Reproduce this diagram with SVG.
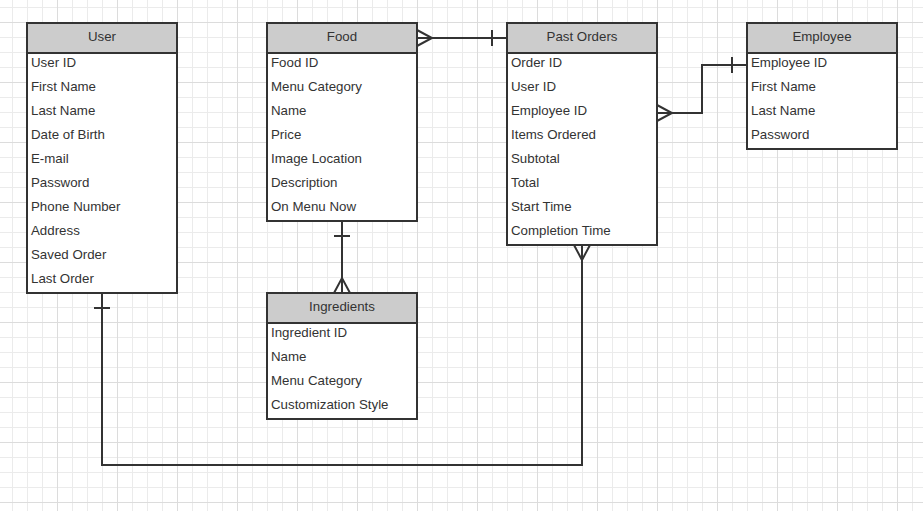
<svg xmlns="http://www.w3.org/2000/svg" width="923" height="511" viewBox="0 0 923 511">
<defs>
<pattern id="minor" patternUnits="userSpaceOnUse" x="12" y="7" width="15" height="15">
<path d="M0.5 0V15M0 0.5H15" stroke="#ebebeb" stroke-width="1" fill="none"/>
</pattern>
<pattern id="major" patternUnits="userSpaceOnUse" x="57" y="22" width="60" height="60">
<path d="M0.5 0V60M0 0.5H60" stroke="#dcdcdc" stroke-width="1" fill="none"/>
</pattern>
</defs>
<style>
.box{fill:#fff;stroke:#333;stroke-width:2}
.hdr{fill:#ccc;stroke:#333;stroke-width:2}
.t{font-family:"Liberation Sans",Arial,sans-serif;font-size:13.3px;fill:#333}
.h{text-anchor:middle}
.c{fill:none;stroke:#333;stroke-width:2}
</style>
<rect width="923" height="511" fill="#fff"/>
<rect width="923" height="511" fill="url(#minor)"/>
<rect width="923" height="511" fill="url(#major)"/>

<g id="connectors">
<path class="c" d="M417 38H507M417 30L432 38L417 46M492 30V46"/>
<path class="c" d="M657 113H702V65H747M657 105L672 113L657 121M732 57V73"/>
<path class="c" d="M342 221V293M334 236H350M334 293L342 278L350 293"/>
<path class="c" d="M582 245V465H102V293M574 245L582 260L590 245M94 308H110"/>
</g>

<g id="user">
<rect class="box" x="27" y="23" width="150" height="270"/>
<rect class="hdr" x="27" y="23" width="150" height="30"/>
<text class="t h" x="102" y="41">User</text>
<text class="t" x="31" y="67">User ID</text>
<text class="t" x="31" y="91">First Name</text>
<text class="t" x="31" y="115">Last Name</text>
<text class="t" x="31" y="139">Date of Birth</text>
<text class="t" x="31" y="163">E-mail</text>
<text class="t" x="31" y="187">Password</text>
<text class="t" x="31" y="211">Phone Number</text>
<text class="t" x="31" y="235">Address</text>
<text class="t" x="31" y="259">Saved Order</text>
<text class="t" x="31" y="283">Last Order</text>
</g>

<g id="food">
<rect class="box" x="267" y="23" width="150" height="198"/>
<rect class="hdr" x="267" y="23" width="150" height="30"/>
<text class="t h" x="342" y="41">Food</text>
<text class="t" x="271" y="67">Food ID</text>
<text class="t" x="271" y="91">Menu Category</text>
<text class="t" x="271" y="115">Name</text>
<text class="t" x="271" y="139">Price</text>
<text class="t" x="271" y="163">Image Location</text>
<text class="t" x="271" y="187">Description</text>
<text class="t" x="271" y="211">On Menu Now</text>
</g>

<g id="past-orders">
<rect class="box" x="507" y="23" width="150" height="222"/>
<rect class="hdr" x="507" y="23" width="150" height="30"/>
<text class="t h" x="582" y="41">Past Orders</text>
<text class="t" x="511" y="67">Order ID</text>
<text class="t" x="511" y="91">User ID</text>
<text class="t" x="511" y="115">Employee ID</text>
<text class="t" x="511" y="139">Items Ordered</text>
<text class="t" x="511" y="163">Subtotal</text>
<text class="t" x="511" y="187">Total</text>
<text class="t" x="511" y="211">Start Time</text>
<text class="t" x="511" y="235">Completion Time</text>
</g>

<g id="employee">
<rect class="box" x="747" y="23" width="150" height="126"/>
<rect class="hdr" x="747" y="23" width="150" height="30"/>
<text class="t h" x="822" y="41">Employee</text>
<text class="t" x="751" y="67">Employee ID</text>
<text class="t" x="751" y="91">First Name</text>
<text class="t" x="751" y="115">Last Name</text>
<text class="t" x="751" y="139">Password</text>
</g>

<g id="ingredients">
<rect class="box" x="267" y="293" width="150" height="126"/>
<rect class="hdr" x="267" y="293" width="150" height="30"/>
<text class="t h" x="342" y="311">Ingredients</text>
<text class="t" x="271" y="337">Ingredient ID</text>
<text class="t" x="271" y="361">Name</text>
<text class="t" x="271" y="385">Menu Category</text>
<text class="t" x="271" y="409">Customization Style</text>
</g>
</svg>
